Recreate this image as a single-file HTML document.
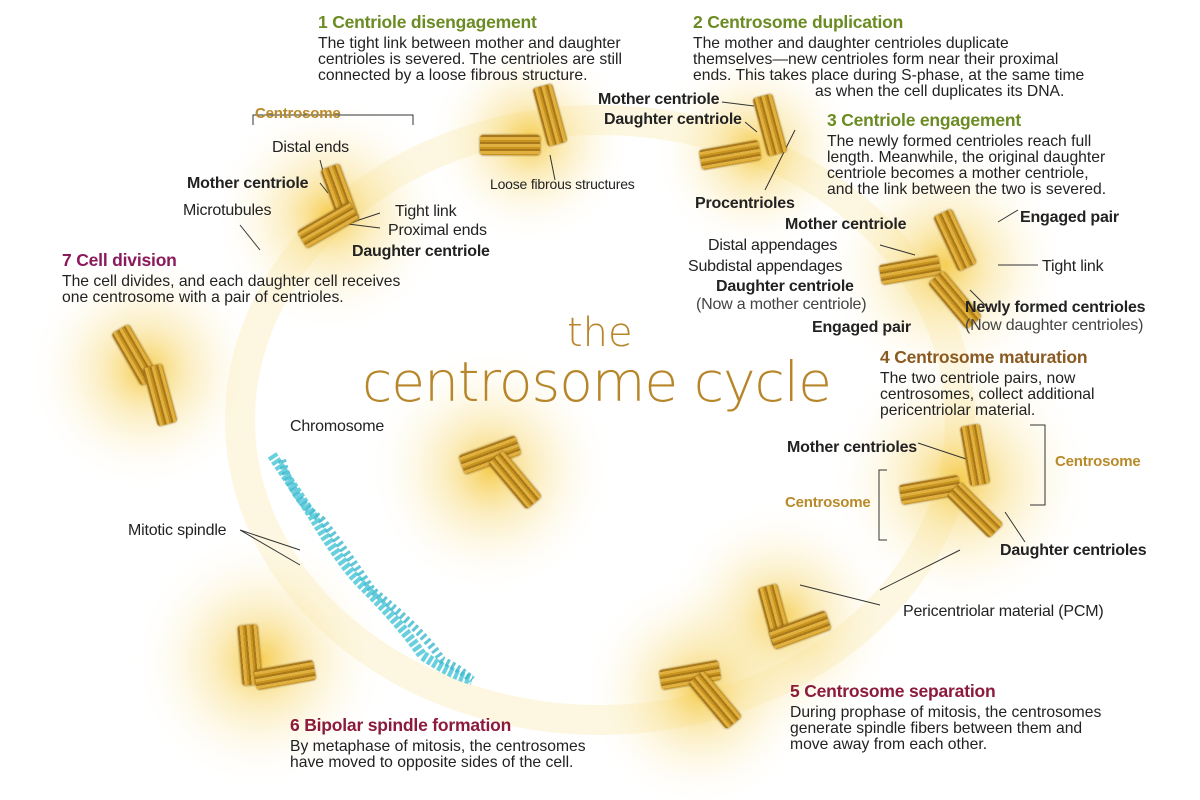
<!DOCTYPE html>
<html><head><meta charset="utf-8"><style>
body{margin:0;width:1200px;height:800px;background:#fff;position:relative;overflow:hidden;font-family:"Liberation Sans",sans-serif;color:#222}
.t{position:absolute;font-size:16px;line-height:16px;white-space:nowrap;letter-spacing:-0.2px}
.pp{font-size:15.7px;letter-spacing:0}
.h{position:absolute;font-size:17.5px;font-weight:bold;white-space:nowrap;letter-spacing:-0.2px}
.b{font-weight:bold}
.g{color:#6b8b23}.br{color:#8a5a22}.m{color:#8b1a3c}.p{color:#8b1a5c}.o{color:#b88a2a;font-weight:bold;font-size:15px}
.c{position:absolute;width:20px;height:60px;border-radius:3px;background:repeating-linear-gradient(90deg,#a8781a 0 2px,#e0b040 2px 5px,#c8941e 5px 7px);box-shadow:0 0 2px #7a5510}
</style></head><body>
<svg width="1200" height="800" style="position:absolute;left:0;top:0">
<defs><radialGradient id="gl"><stop offset="0" stop-color="#f5c840" stop-opacity=".9"/><stop offset=".35" stop-color="#f8dc80" stop-opacity=".5"/><stop offset="1" stop-color="#fff" stop-opacity="0"/></radialGradient></defs>
<ellipse cx="600" cy="420" rx="360" ry="300" fill="none" stroke="#fcefc4" stroke-width="30" opacity=".5"/>
<g fill="url(#gl)">
<circle cx="330" cy="215" r="120"/><circle cx="530" cy="140" r="105"/><circle cx="755" cy="150" r="105"/><circle cx="945" cy="265" r="125"/><circle cx="960" cy="480" r="135"/><circle cx="780" cy="620" r="120"/><circle cx="700" cy="690" r="120"/><circle cx="260" cy="660" r="130"/><circle cx="490" cy="470" r="125"/><circle cx="145" cy="370" r="120"/>
</g>
<g stroke="#333" stroke-width="1" fill="none">
<path d="M253 125v-10h160v10"/><path d="M320 160l8 30M320 183l8 10M380 213l-30 10M380 228l-40-5M240 225l20 25M550 155l5 25"/>
<path d="M722 102l32 4M745 122l12 10M765 190l30-60M880 245l35 10M880 267l30 5M998 265l40 0M998 222l20-12M970 290l20 20"/>
<path d="M918 443l60 20M1030 425h15v80h-15M887 470h-8v70h8M1005 512l20 30M880 590l80-40M880 605l-80-20"/>
<path d="M240 530l60 20M240 530l60 35"/>
</g>
<path d="M272 455q20 30 40 60q30 50 50 70q40 40 60 70q30 20 50 25" stroke="#4cc7d8" stroke-width="10" fill="none" stroke-dasharray="4 2" opacity=".85"/>
<path d="M282 460q10 40 40 60q30 40 50 70q50 40 70 70q20 10 30 20" stroke="#3ab8cc" stroke-width="8" fill="none" stroke-dasharray="3 3" opacity=".8"/>
</svg>
<div class="c" style="left:330px;top:165px;transform:rotate(-20deg)"></div><div class="c" style="left:318px;top:195px;transform:rotate(60deg)"></div>
<div class="c" style="left:540px;top:85px;transform:rotate(-15deg)"></div><div class="c" style="left:500px;top:115px;transform:rotate(90deg)"></div>
<div class="c" style="left:760px;top:95px;transform:rotate(-15deg)"></div><div class="c" style="left:720px;top:125px;transform:rotate(80deg)"></div>
<div class="c" style="left:945px;top:210px;transform:rotate(-25deg)"></div><div class="c" style="left:900px;top:240px;transform:rotate(80deg)"></div><div class="c" style="left:945px;top:270px;transform:rotate(-40deg)"></div>
<div class="c" style="left:965px;top:425px;transform:rotate(-10deg)"></div><div class="c" style="left:920px;top:460px;transform:rotate(80deg)"></div><div class="c" style="left:965px;top:480px;transform:rotate(-45deg)"></div>
<div class="c" style="left:765px;top:585px;transform:rotate(-15deg)"></div><div class="c" style="left:790px;top:600px;transform:rotate(70deg)"></div>
<div class="c" style="left:680px;top:645px;transform:rotate(80deg)"></div><div class="c" style="left:705px;top:670px;transform:rotate(-40deg)"></div>
<div class="c" style="left:240px;top:625px;transform:rotate(-5deg)"></div><div class="c" style="left:275px;top:645px;transform:rotate(80deg)"></div>
<div class="c" style="left:480px;top:425px;transform:rotate(70deg)"></div><div class="c" style="left:505px;top:450px;transform:rotate(-40deg)"></div>
<div class="c" style="left:125px;top:325px;transform:rotate(-30deg)"></div><div class="c" style="left:150px;top:365px;transform:rotate(-15deg)"></div>

<div class="h g" style="left:318px;top:12px">1 Centriole disengagement</div>
<div class="t pp" style="left:318px;top:36px">The tight link between mother and daughter<br>centrioles is severed. The centrioles are still<br>connected by a loose fibrous structure.</div>
<div class="h g" style="left:693px;top:12px">2 Centrosome duplication</div>
<div class="t pp" style="left:693px;top:36px">The mother and daughter centrioles duplicate<br>themselves—new centrioles form near their proximal<br>ends. This takes place during S-phase, at the same time</div>
<div class="t pp" style="left:815px;top:84px">as when the cell duplicates its DNA.</div>
<div class="h g" style="left:827px;top:110px">3 Centriole engagement</div>
<div class="t pp" style="left:827px;top:134px">The newly formed centrioles reach full<br>length. Meanwhile, the original daughter<br>centriole becomes a mother centriole,<br>and the link between the two is severed.</div>
<div class="t o" style="left:255px;top:106px">Centrosome</div>
<div class="t" style="left:272px;top:140px">Distal ends</div>
<div class="t b" style="left:187px;top:176px">Mother centriole</div>
<div class="t" style="left:183px;top:203px">Microtubules</div>
<div class="t" style="left:395px;top:204px">Tight link</div>
<div class="t" style="left:388px;top:223px">Proximal ends</div>
<div class="t b" style="left:352px;top:244px">Daughter centriole</div>
<div class="t" style="left:490px;top:176px;font-size:14px">Loose fibrous structures</div>
<div class="t b" style="left:598px;top:92px">Mother centriole</div>
<div class="t b" style="left:604px;top:112px">Daughter centriole</div>
<div class="t b" style="left:695px;top:196px">Procentrioles</div>
<div class="t b" style="left:785px;top:217px">Mother centriole</div>
<div class="t b" style="left:1020px;top:210px">Engaged pair</div>
<div class="t" style="left:708px;top:238px">Distal appendages</div>
<div class="t" style="left:688px;top:259px">Subdistal appendages</div>
<div class="t" style="left:1042px;top:259px">Tight link</div>
<div class="t b" style="left:716px;top:279px">Daughter centriole</div>
<div class="t" style="left:696px;top:297px;color:#444">(Now a mother centriole)</div>
<div class="t b" style="left:965px;top:300px">Newly formed centrioles</div>
<div class="t" style="left:965px;top:318px;color:#444">(Now daughter centrioles)</div>
<div class="t b" style="left:812px;top:320px">Engaged pair</div>
<div class="h br" style="left:880px;top:347px">4 Centrosome maturation</div>
<div class="t pp" style="left:880px;top:371px">The two centriole pairs, now<br>centrosomes, collect additional<br>pericentriolar material.</div>
<div class="t b" style="left:787px;top:440px">Mother centrioles</div>
<div class="t o" style="left:1055px;top:454px">Centrosome</div>
<div class="t o" style="left:785px;top:495px">Centrosome</div>
<div class="t b" style="left:1000px;top:543px">Daughter centrioles</div>
<div class="t" style="left:903px;top:604px">Pericentriolar material (PCM)</div>
<div class="h m" style="left:790px;top:681px">5 Centrosome separation</div>
<div class="t pp" style="left:790px;top:705px">During prophase of mitosis, the centrosomes<br>generate spindle fibers between them and<br>move away from each other.</div>
<div class="h m" style="left:290px;top:715px">6 Bipolar spindle formation</div>
<div class="t pp" style="left:290px;top:739px">By metaphase of mitosis, the centrosomes<br>have moved to opposite sides of the cell.</div>
<div class="h p" style="left:62px;top:250px">7 Cell division</div>
<div class="t pp" style="left:62px;top:274px">The cell divides, and each daughter cell receives<br>one centrosome with a pair of centrioles.</div>
<div class="t" style="left:290px;top:419px">Chromosome</div>
<div class="t" style="left:128px;top:523px">Mitotic spindle</div>
<div style="position:absolute;left:567px;top:310px;font-size:40px;color:#b8862a;font-family:'DejaVu Sans',sans-serif;font-weight:200">the</div>
<div style="position:absolute;left:362px;top:350px;font-size:55px;color:#b8862a;font-family:'DejaVu Sans',sans-serif;font-weight:200;white-space:nowrap;letter-spacing:-1px">centrosome cycle</div>
</body></html>
